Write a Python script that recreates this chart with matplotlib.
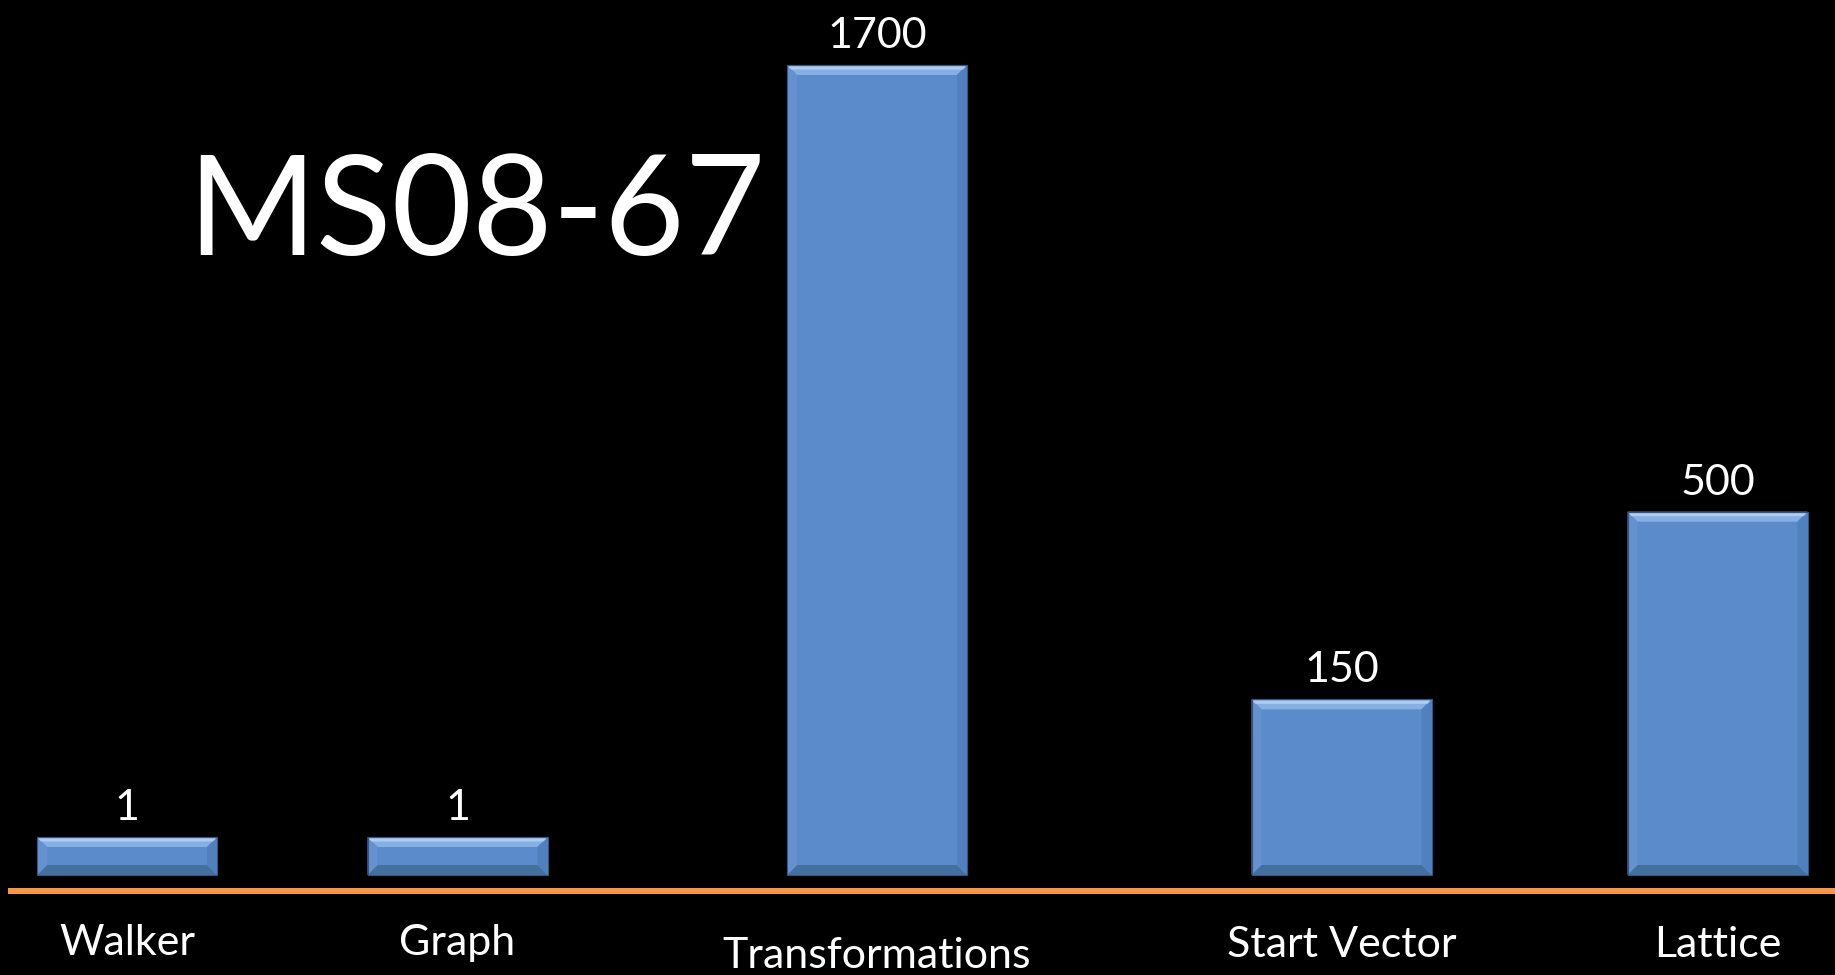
import numpy as np
import matplotlib
matplotlib.use("Agg")
import matplotlib.pyplot as plt
from matplotlib.patches import Polygon
from matplotlib.lines import Line2D
from matplotlib.transforms import IdentityTransform, blended_transform_factory

# ---- data ----
categories = ["Walker", "Graph", "Transformations", "Start Vector", "Lattice"]
values = [1, 1, 1700, 150, 500]
title = "MS08-67"

# ---- layout ----
W, H, DPI = 1835, 975, 100
slot_x = [127, 457.5, 877, 1341.5, 1717.5]        # bar centres (slide units)
label_baseline = [955, 955, 968, 957, 957]       # px from top
bar_width = 180
baseline_px = 875                                # px from top
px_per_unit = 4.253

FACE = "#5B8BCB"
EDGE = "#34557F"
TOP_BEVEL = "#86AFE4"
TOP_HI = "#AECBF1"
LEFT_BEVEL = "#6592CF"
RIGHT_BEVEL = "#5080BD"
BOTTOM_BEVEL = "#44709F"
ORANGE = "#F79646"

plt.rcParams["font.family"] = ["Lato", "DejaVu Sans"]

# compressed value axis: linear below 1, power law above
P, C = 0.70, 7.935


def fwd(v):
    v = np.asarray(v, dtype=float)
    return np.where(v <= 1, v * (1 + C), np.abs(v) ** P + C)


def inv(t):
    t = np.asarray(t, dtype=float)
    return np.where(t <= 1 + C, t / (1 + C), np.clip(t - C, 0, None) ** (1 / P))


fig = plt.figure(figsize=(W / DPI, H / DPI), dpi=DPI, facecolor="black")
ax = fig.add_axes([0, (H - baseline_px) / H, 1, baseline_px / H])
ax.set_facecolor("none")
ax.set_yscale("function", functions=(fwd, inv))
ax.set_xlim(0, W)
ax.set_ylim(0, float(inv(baseline_px / px_per_unit)))
ax.set_axis_off()

bars = ax.bar(slot_x, values, width=bar_width, color=FACE,
              edgecolor=EDGE, linewidth=0.8, zorder=2)

# bevel shading on each bar, in display pixels
fig.canvas.draw()
b = 10
for rect in bars:
    (x0, y0), (x1, y1) = ax.transData.transform(
        [(rect.get_x(), 0), (rect.get_x() + rect.get_width(), rect.get_height())])
    polys = [
        ([(x0, y1), (x1, y1), (x1 - b, y1 - b), (x0 + b, y1 - b)], TOP_BEVEL),
        ([(x0, y0), (x1, y0), (x1 - b, y0 + b), (x0 + b, y0 + b)], BOTTOM_BEVEL),
        ([(x0, y0), (x0, y1), (x0 + b, y1 - b), (x0 + b, y0 + b)], LEFT_BEVEL),
        ([(x1, y0), (x1, y1), (x1 - b, y1 - b), (x1 - b, y0 + b)], RIGHT_BEVEL),
    ]
    for pts, col in polys:
        fig.patches.append(Polygon(pts, closed=True, facecolor=col, edgecolor="none",
                                   transform=IdentityTransform(), figure=fig, zorder=3))
    fig.patches.append(Polygon([(x0 + 1, y1 - 1.5), (x1 - 1, y1 - 1.5), (x1 - 4, y1 - 4.5), (x0 + 4, y1 - 4.5)],
                               closed=True, facecolor=TOP_HI, edgecolor="none",
                               transform=IdentityTransform(), figure=fig, zorder=3))
    fig.patches.append(Polygon([(x0, y0), (x1, y0), (x1, y1), (x0, y1)], closed=True,
                               facecolor="none", edgecolor=EDGE, linewidth=0.8,
                               transform=IdentityTransform(), figure=fig, zorder=4))

# value labels above bars
for x, v in zip(slot_x, values):
    ax.annotate(f"{v}", (x, v), xytext=(0, 17), textcoords="offset pixels",
                ha="center", va="baseline", color="white", fontsize=31, zorder=5)

# orange baseline rule
fig.add_artist(Line2D([8 / W, 1.0], [(H - 891) / H] * 2, color=ORANGE,
                      linewidth=6 * 72 / DPI, solid_capstyle="butt"))

# category labels
trans = blended_transform_factory(ax.transData, fig.transFigure)
for x, name, yb in zip(slot_x, categories, label_baseline):
    ax.text(x, (H - yb) / H, name, transform=trans, ha="center", va="baseline",
            color="white", fontsize=31, clip_on=False)

# big title
fig.text(187 / W, (H - 255) / H, title, ha="left", va="baseline",
         color="white", fontsize=100)

fig.savefig("out.png", dpi=DPI, facecolor="black")
